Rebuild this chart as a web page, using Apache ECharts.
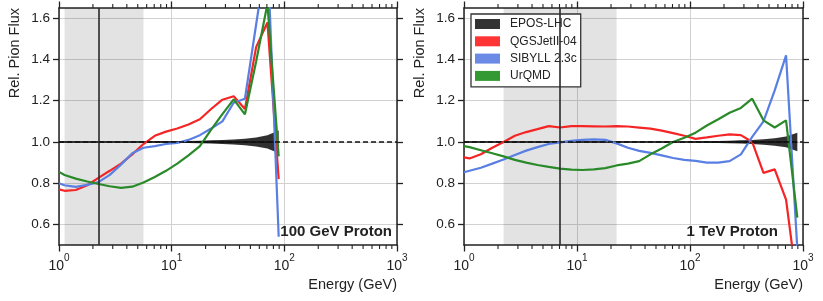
<!DOCTYPE html>
<html>
<head>
<meta charset="utf-8">
<script src="https://cdn.jsdelivr.net/npm/echarts@6/dist/echarts.min.js"></script>
<style>
html,body{margin:0;padding:0;background:#fff;}
#chart{width:823px;height:301px;}
</style>
</head>
<body>
<div id="chart"></div>
<script>
// ---------- data ----------
const energyLeft = [1, 1.12, 1.41, 1.78, 2.24, 2.82, 3.55, 4.47, 5.62, 7.08, 8.91, 11.2, 14.1, 17.8, 22.4, 28.2, 35.5, 44.7, 56.2, 70.8, 89.1];
const qgsLeft  = [0.770, 0.763, 0.767, 0.790, 0.826, 0.860, 0.895, 0.940, 0.990, 1.030, 1.050, 1.065, 1.085, 1.110, 1.160, 1.205, 1.222, 1.160, 1.460, 1.580, 0.820];
const sibLeft  = [0.800, 0.790, 0.782, 0.792, 0.805, 0.840, 0.890, 0.945, 0.972, 0.980, 0.990, 0.995, 1.010, 1.033, 1.065, 1.100, 1.190, 1.210, 1.570, 1.930, 0.540];
const urqLeft  = [0.855, 0.840, 0.822, 0.808, 0.796, 0.785, 0.777, 0.783, 0.803, 0.830, 0.860, 0.895, 0.935, 0.980, 1.060, 1.135, 1.207, 1.134, 1.390, 1.670, 0.930];
const eposErrLeft = [0.002, 0.002, 0.002, 0.002, 0.002, 0.002, 0.002, 0.002, 0.002, 0.003, 0.003, 0.004, 0.005, 0.006, 0.008, 0.010, 0.012, 0.016, 0.022, 0.032, 0.055];

const energyRight = [1, 1.12, 1.41, 1.78, 2.24, 2.82, 3.55, 4.47, 5.62, 7.08, 8.91, 11.2, 14.1, 17.8, 22.4, 28.2, 35.5, 44.7, 56.2, 70.8, 89.1, 112, 141, 178, 224, 282, 355, 447, 562, 708, 891];
const qgsRight = [0.925, 0.920, 0.940, 0.972, 1.000, 1.030, 1.048, 1.062, 1.077, 1.070, 1.077, 1.077, 1.076, 1.075, 1.077, 1.075, 1.070, 1.065, 1.055, 1.043, 1.030, 1.015, 1.022, 1.030, 1.037, 1.033, 1.000, 0.850, 0.867, 0.720, 0.300];
const sibRight = [0.853, 0.860, 0.875, 0.895, 0.915, 0.937, 0.958, 0.975, 0.990, 0.998, 1.005, 1.010, 1.013, 1.010, 0.993, 0.972, 0.957, 0.947, 0.935, 0.922, 0.913, 0.908, 0.900, 0.900, 0.907, 0.940, 1.025, 1.100, 1.250, 1.420, 0.480];
const urqRight = [0.980, 0.975, 0.960, 0.945, 0.930, 0.913, 0.900, 0.888, 0.879, 0.871, 0.866, 0.864, 0.867, 0.873, 0.886, 0.895, 0.907, 0.940, 0.968, 1.000, 1.020, 1.045, 1.080, 1.110, 1.142, 1.165, 1.210, 1.105, 1.070, 1.105, 0.633];
const eposErrRight = [0.002, 0.002, 0.002, 0.002, 0.002, 0.002, 0.002, 0.002, 0.002, 0.002, 0.002, 0.002, 0.002, 0.002, 0.002, 0.002, 0.002, 0.002, 0.002, 0.002, 0.002, 0.003, 0.004, 0.005, 0.006, 0.008, 0.010, 0.013, 0.018, 0.026, 0.045];

const shadeLeft = [1.12, 5.62];
const markerLeft = 2.24;
const shadeRight = [2.24, 22.4];
const markerRight = 7.08;

const yTicks = [0.6, 0.8, 1.0, 1.2, 1.4, 1.6];
const minorTicks = [2, 3, 4, 5, 6, 7, 8, 9, 20, 30, 40, 50, 60, 70, 80, 90, 200, 300, 400, 500, 600, 700, 800, 900];
const modelNames = ['EPOS-LHC', 'QGSJetII-04', 'SIBYLL 2.3c', 'UrQMD'];
const panelTitles = ['100 GeV Proton', '1 TeV Proton'];

// ---------- styles ----------
const FONT = "'Liberation Sans', Arial, Helvetica, sans-serif";
const INK = '#222';
const colors = { epos: '#1e1e1e', qgs: '#f52525', sib: '#5a7fe3', urq: '#2a8a2a' };
const legendColors = ['#333333', '#ff3535', '#6a8ae6', '#339a33'];

const pairs = (xs, ys) => xs.map((x, i) => [x, ys[i]]);

function xAxisDef(gi, pos) {
  const bottom = pos === 'bottom';
  return {
    type: 'log', logBase: 10, min: 1, max: 1000, gridIndex: gi, position: pos,
    axisLine: { show: true, onZero: false, lineStyle: { color: INK, width: 1.5 } },
    axisTick: { show: true, inside: false, length: 6.5, lineStyle: { color: INK, width: 1.3 } },
    axisLabel: bottom ? {
      show: true, margin: 8, fontFamily: FONT,
      formatter: v => '{b|10}{s|' + Math.round(Math.log10(v)) + '}',
      rich: {
        b: { fontSize: 14, fontFamily: FONT, color: INK, lineHeight: 20, verticalAlign: 'bottom' },
        s: { fontSize: 10, fontFamily: FONT, color: INK, lineHeight: 10, verticalAlign: 'top' }
      }
    } : { show: false },
    splitLine: { show: bottom, lineStyle: { color: '#d2d2d2', width: 1 } },
    minorTick: { show: false }
  };
}
function yAxisDef(gi, pos) {
  const left = pos === 'left';
  return {
    type: 'value', min: 0.5, max: 1.65, gridIndex: gi, position: pos,
    axisLine: { show: true, onZero: false, lineStyle: { color: INK, width: 1.5 } },
    axisTick: { show: true, inside: false, length: 6, customValues: yTicks, lineStyle: { color: INK, width: 1.3 } },
    axisLabel: left ? { show: true, margin: 9, fontSize: 13.5, color: INK, fontFamily: FONT,
      customValues: yTicks, formatter: v => v.toFixed(1) } : { show: false },
    splitLine: { show: left, lineStyle: { color: '#d2d2d2', width: 1 } }
  };
}

function renderMinor(params, api) {
  const cs = params.coordSys;
  const x = api.coord([api.value(0), 1])[0];
  const yb = cs.y + cs.height, yt = cs.y;
  return {
    type: 'group',
    children: [
      { type: 'line', shape: { x1: x, y1: yb, x2: x, y2: yb + 4 }, style: { stroke: INK, lineWidth: 1.1 } },
      { type: 'line', shape: { x1: x, y1: yt, x2: x, y2: yt - 4 }, style: { stroke: INK, lineWidth: 1.1 } }
    ]
  };
}

function panelSeries(p, energy, qgs, sib, urq, err, shade, marker) {
  const xi = p * 2, yi = p * 2;
  return [
    { // reference line + shading + marker
      name: 'ref' + p, type: 'line', xAxisIndex: xi, yAxisIndex: yi, data: [], silent: true,
      markArea: { silent: true, itemStyle: { color: 'rgba(0,0,0,0.11)' },
        data: [[{ xAxis: shade[0] }, { xAxis: shade[1] }]] },
      markLine: { silent: true, symbol: 'none', label: { show: false },
        data: [
          { xAxis: marker, lineStyle: { color: '#2a2a2a', width: 1.6, type: 'solid' } },
          { yAxis: 1, lineStyle: { color: '#111', width: 1.5, type: [5, 3] } }
        ] }
    },
    { name: modelNames[0], type: 'line', xAxisIndex: xi, yAxisIndex: yi, showSymbol: false,
      silent: true, lineStyle: { width: 0, opacity: 0 }, itemStyle: { color: colors.epos },
      areaStyle: { color: colors.epos, opacity: 0.92, origin: 1 },
      data: pairs(energy, energy.map((e, i) => 1 + err[i])) },
    { name: 'eposLow' + p, type: 'line', xAxisIndex: xi, yAxisIndex: yi, showSymbol: false,
      silent: true, lineStyle: { width: 0, opacity: 0 }, itemStyle: { color: colors.epos },
      areaStyle: { color: colors.epos, opacity: 0.92, origin: 1 },
      data: pairs(energy, energy.map((e, i) => 1 - err[i])) },
    { name: 'eposMid' + p, type: 'line', xAxisIndex: xi, yAxisIndex: yi, showSymbol: false, silent: true,
      lineStyle: { color: '#111', width: 1.5 }, data: pairs(energy, energy.map(() => 1)) },
    { name: modelNames[1], type: 'line', xAxisIndex: xi, yAxisIndex: yi, showSymbol: false,
      lineStyle: { color: colors.qgs, width: 2.2 }, itemStyle: { color: colors.qgs }, data: pairs(energy, qgs) },
    { name: modelNames[2], type: 'line', xAxisIndex: xi, yAxisIndex: yi, showSymbol: false,
      lineStyle: { color: colors.sib, width: 2.2 }, itemStyle: { color: colors.sib }, data: pairs(energy, sib) },
    { name: modelNames[3], type: 'line', xAxisIndex: xi, yAxisIndex: yi, showSymbol: false,
      lineStyle: { color: colors.urq, width: 2.2 }, itemStyle: { color: colors.urq }, data: pairs(energy, urq) },
    { name: 'minor' + p, type: 'custom', xAxisIndex: xi, yAxisIndex: yi, silent: true, z: 10,
      renderItem: renderMinor, data: minorTicks.map(v => [v, 1]), encode: { x: 0, y: 1 } }
  ];
}

const chart = echarts.init(document.getElementById('chart'), null, { renderer: 'canvas' });
const option = {
  animation: false,
  backgroundColor: '#fff',
  grid: [
    { left: 59, top: 8, width: 338, height: 237 },
    { left: 464, top: 8, width: 339, height: 237 }
  ],
  xAxis: [xAxisDef(0, 'bottom'), xAxisDef(0, 'top'), xAxisDef(1, 'bottom'), xAxisDef(1, 'top')],
  yAxis: [yAxisDef(0, 'left'), yAxisDef(0, 'right'), yAxisDef(1, 'left'), yAxisDef(1, 'right')],
  legend: {
    left: 471, top: 14, orient: 'vertical', icon: 'rect',
    itemWidth: 25, itemHeight: 10, itemGap: 5.3,
    padding: [4, 4, 5, 4],
    backgroundColor: '#fff', borderColor: '#333', borderWidth: 1.3,
    selectedMode: false,
    textStyle: { fontSize: 12, fontFamily: FONT, color: INK, lineHeight: 12, padding: [0, 0, 0, 5] },
    data: modelNames.map((n, i) => ({ name: n, itemStyle: { color: legendColors[i], borderWidth: 0 } }))
  },
  graphic: [
    { type: 'text', x: 15, y: 8, rotation: Math.PI / 2,
      style: { text: 'Rel. Pion Flux', font: '14.5px ' + FONT, fill: INK, align: 'right', verticalAlign: 'middle' } },
    { type: 'text', x: 420, y: 8, rotation: Math.PI / 2,
      style: { text: 'Rel. Pion Flux', font: '14.5px ' + FONT, fill: INK, align: 'right', verticalAlign: 'middle' } },
    { type: 'text', x: 397, y: 285,
      style: { text: 'Energy (GeV)', font: '14.5px ' + FONT, fill: INK, align: 'right', verticalAlign: 'middle' } },
    { type: 'text', x: 803, y: 285,
      style: { text: 'Energy (GeV)', font: '14.5px ' + FONT, fill: INK, align: 'right', verticalAlign: 'middle' } },
    { type: 'text', x: 392, y: 232, z: 20,
      style: { text: panelTitles[0], font: 'bold 15px ' + FONT, fill: INK, align: 'right', verticalAlign: 'middle' } },
    { type: 'text', x: 778, y: 232, z: 20,
      style: { text: panelTitles[1], font: 'bold 15px ' + FONT, fill: INK, align: 'right', verticalAlign: 'middle' } }
  ],
  series: [].concat(
    panelSeries(0, energyLeft, qgsLeft, sibLeft, urqLeft, eposErrLeft, shadeLeft, markerLeft),
    panelSeries(1, energyRight, qgsRight, sibRight, urqRight, eposErrRight, shadeRight, markerRight)
  )
};
chart.setOption(option);
</script>
</body>
</html>
